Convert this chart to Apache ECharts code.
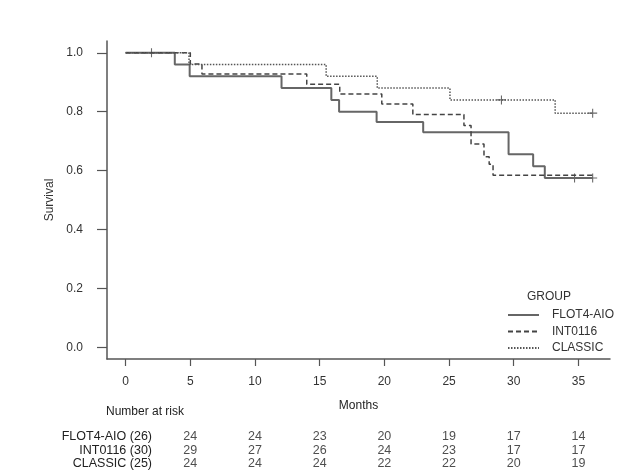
<!DOCTYPE html>
<html>
<head>
<meta charset="utf-8">
<script src="https://cdn.jsdelivr.net/npm/echarts@6/dist/echarts.min.js"></script>
<style>html,body{margin:0;padding:0;background:#fff;}#c{width:644px;height:476px;}</style>
</head>
<body>
<div id="c"></div>
<script>
// ---- data ----
const xTicks = [0, 5, 10, 15, 20, 25, 30, 35];
const yTicks = [0, 0.2, 0.4, 0.6, 0.8, 1.0];
const groupNames = ['FLOT4-AIO', 'INT0116', 'CLASSIC'];

const flotTimes = [0, 3.8, 4.95, 12.05, 15.9, 16.5, 19.4, 23.0, 29.6, 31.5, 32.4, 36.1];
const flotSurv  = [1, 0.96, 0.92, 0.88, 0.84, 0.80, 0.765, 0.73, 0.655, 0.615, 0.575, 0.575];
const flotCensT = [2.0, 34.7, 36.1];
const flotCensS = [1, 0.575, 0.575];

const intTimes = [0, 5.0, 5.9, 14.0, 16.55, 19.8, 22.2, 26.15, 26.7, 27.7, 28.1, 28.4, 36.1];
const intSurv  = [1, 0.962, 0.928, 0.893, 0.86, 0.826, 0.79, 0.753, 0.69, 0.647, 0.621, 0.584, 0.584];

const classicTimes = [0, 4.9, 15.5, 19.45, 25.07, 33.2, 36.1];
const classicSurv  = [1, 0.96, 0.92, 0.88, 0.84, 0.795, 0.795];
const classicCensT = [29.05, 36.1];
const classicCensS = [0.84, 0.795];

const riskTimes = [5, 10, 15, 20, 25, 30, 35];
const riskRows = ['FLOT4-AIO (26)', 'INT0116 (30)', 'CLASSIC (25)'];
const riskFlot = [24, 24, 23, 20, 19, 17, 14];
const riskInt = [29, 27, 26, 24, 23, 17, 17];
const riskClassic = [24, 24, 24, 22, 22, 20, 19];

// ---- build ----
const zip = (a, b) => a.map((v, i) => [v, b[i]]);
const riskData = [];
[riskFlot, riskInt, riskClassic].forEach((row, r) => {
  row.forEach((n, i) => riskData.push([riskTimes[i], riskRows[r], n]));
});
const plusSym = 'path://M4.4,0H5.6V10H4.4Z M0,4.4H10V5.6H0Z';
const txt = '#333';
const font = 'Liberation Sans, Arial, sans-serif';

const chart = echarts.init(document.getElementById('c'));
chart.setOption({
  animation: false,
  backgroundColor: '#fff',
  textStyle: { fontFamily: font },
  title: [
    { text: 'Number at risk', left: 106, top: 406, textStyle: { fontSize: 12, fontWeight: 'normal', color: '#222', fontFamily: font }, padding: 0 },
    { text: 'GROUP', left: 527, top: 291, textStyle: { fontSize: 12, fontWeight: 'normal', color: txt, fontFamily: font }, padding: 0 }
  ],
  legend: {
    data: groupNames,
    orient: 'vertical',
    left: 507, top: 309,
    itemWidth: 31, itemHeight: 12, itemGap: 4.5,
    padding: 0,
    itemStyle: { opacity: 0 },
    textStyle: { fontSize: 12, color: txt, fontFamily: font, padding: [0, 0, 0, 8] }
  },
  grid: [
    { left: 107, right: 34, top: 41, bottom: 117 },
    { left: 107, right: 34, top: 430, height: 40.5 }
  ],
  xAxis: [
    {
      type: 'value', gridIndex: 0, min: -1.44, max: 37.44,
      name: 'Months', nameLocation: 'middle', nameGap: 41,
      nameTextStyle: { fontSize: 12, color: '#222', fontFamily: font },
      axisLine: { show: true, onZero: false, lineStyle: { color: '#555', width: 1.5 } },
      axisTick: { show: true, length: 7, customValues: xTicks, lineStyle: { color: '#555', width: 1.2 } },
      axisLabel: { customValues: xTicks, margin: 17, fontSize: 12, color: txt, fontFamily: font },
      splitLine: { show: false }
    },
    {
      type: 'value', gridIndex: 1, min: -1.44, max: 37.44, show: false
    }
  ],
  yAxis: [
    {
      type: 'value', gridIndex: 0, min: -0.04, max: 1.04,
      name: 'Survival', nameLocation: 'middle', nameGap: 47,
      nameTextStyle: { fontSize: 12, color: txt, fontFamily: font },
      axisLine: { show: true, onZero: false, lineStyle: { color: '#555', width: 1.5 } },
      axisTick: { show: true, length: 10, customValues: yTicks, lineStyle: { color: '#555', width: 1.2 } },
      axisLabel: { customValues: yTicks, margin: 24, fontSize: 12, color: txt, fontFamily: font,
        formatter: v => v.toFixed(1) },
      splitLine: { show: false }
    },
    {
      type: 'category', gridIndex: 1, data: riskRows.slice(), inverse: true,
      offset: -48,
      axisLine: { show: false }, axisTick: { show: false },
      axisLabel: { interval: 0, margin: 3, fontSize: 12.5, color: '#222', fontFamily: font }
    }
  ],
  series: [
    { name: 'FLOT4-AIO', type: 'line', step: 'end', data: zip(flotTimes, flotSurv), symbol: 'none',
      lineStyle: { color: '#666', width: 2, type: 'solid' }, itemStyle: { color: '#666' } },
    { name: 'INT0116', type: 'line', step: 'end', data: zip(intTimes, intSurv), symbol: 'none',
      lineStyle: { color: '#444', width: 1.5, type: [5, 3] }, itemStyle: { color: '#444' } },
    { name: 'CLASSIC', type: 'line', step: 'end', data: zip(classicTimes, classicSurv), symbol: 'none',
      lineStyle: { color: '#555', width: 1.5, type: [1.5, 1.5] }, itemStyle: { color: '#555' } },
    { name: 'FLOT4-AIO censored', type: 'scatter', data: zip(flotCensT, flotCensS), symbol: plusSym, symbolSize: 9,
      itemStyle: { color: '#444' } },
    { name: 'CLASSIC censored', type: 'scatter', data: zip(classicCensT, classicCensS), symbol: plusSym, symbolSize: 9,
      itemStyle: { color: '#444' } },
    { name: 'Number at risk', type: 'scatter', xAxisIndex: 1, yAxisIndex: 1, data: riskData,
      symbolSize: 1, itemStyle: { color: 'rgba(0,0,0,0)' },
      label: { show: true, position: 'inside', formatter: p => String(p.value[2]), fontSize: 12.5, color: '#222', fontFamily: font } }
  ]
});
</script>
</body>
</html>
